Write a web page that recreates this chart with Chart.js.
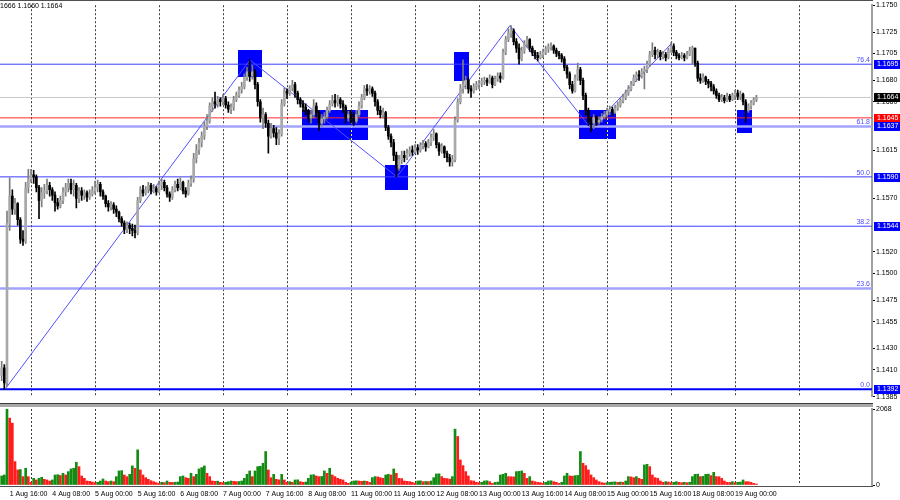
<!DOCTYPE html>
<html><head><meta charset="utf-8">
<script src="https://cdn.jsdelivr.net/npm/chart.js@4.4.1/dist/chart.umd.min.js"></script>
<style>
html,body{margin:0;padding:0;background:#fff;overflow:hidden}
#wrap{position:relative;width:900px;height:500px;background:#fff}
#pc{position:absolute;left:0;top:0}
#vc{position:absolute;left:0;top:402px}
</style></head><body>
<div id="wrap"><canvas id="pc" width="900" height="402"></canvas><canvas id="vc" width="900" height="98"></canvas></div>
<script>
// ---------- DATA (EURUSD H1, 1 Aug 13:00 -> 19 Aug 08:00) ----------
const open0 = 1.1405;
const closes = [
1.1412,1.1398,1.1547,1.1572,1.1560,1.1565,1.1550,1.1532,1.1530,1.1580,1.1588,
1.1592,1.1590,1.1580,1.1568,1.1575,1.1577,1.1582,1.1578,1.1573,1.1566,1.1563,1.1568,1.1576,1.1580,1.1584,1.1578,1.1582,1.1570,1.1577,1.1573,1.1575,1.1571,1.1574,1.1577,
1.1580,1.1583,1.1576,1.1572,1.1565,1.1562,1.1564,1.1560,1.1557,1.1551,1.1547,1.1541,1.1545,1.1542,1.1540,1.1538,1.1568,1.1578,1.1575,1.1578,1.1582,1.1577,1.1579,1.1576,
1.1582,1.1585,1.1580,1.1574,1.1571,1.1578,1.1583,1.1580,1.1585,1.1577,1.1574,1.1584,1.1588,1.1607,1.1615,1.1622,1.1628,1.1637,1.1642,1.1656,1.1660,1.1658,1.1662,1.1660,
1.1663,1.1657,1.1653,1.1655,1.1662,1.1666,1.1671,1.1674,1.1683,1.1688,1.1684,1.1688,1.1676,1.1660,1.1645,1.1648,1.1640,1.1628,1.1635,1.1631,1.1626,1.1630,1.1658,1.1670,
1.1668,1.1673,1.1676,1.1668,1.1662,1.1658,1.1655,1.1651,1.1645,1.1648,1.1656,1.1650,1.1640,1.1644,1.1646,1.1652,1.1658,1.1661,1.1659,1.1662,1.1658,1.1655,1.1645,1.1648,
1.1644,1.1642,1.1648,1.1656,1.1664,1.1672,1.1670,1.1672,1.1668,1.1660,1.1652,1.1648,1.1650,1.1636,1.1628,1.1622,1.1610,1.1598,1.1606,1.1610,1.1608,1.1612,1.1615,1.1613,
1.1617,1.1615,1.1619,1.1621,1.1618,1.1622,1.1627,1.1630,1.1620,1.1614,1.1618,1.1612,1.1608,1.1604,1.1606,1.1643,1.1660,1.1672,1.1676,1.1680,1.1672,1.1670,1.1674,1.1676,
1.1677,1.1679,1.1680,1.1678,1.1682,1.1676,1.1681,1.1684,1.1682,1.1706,1.1718,1.1724,1.1726,1.1716,1.1710,1.1700,1.1708,1.1714,1.1718,1.1710,1.1706,1.1703,1.1701,1.1704,
1.1706,1.1709,1.1711,1.1712,1.1708,1.1705,1.1703,1.1700,1.1692,1.1686,1.1676,1.1670,1.1682,1.1690,1.1680,1.1666,1.1652,1.1642,1.1640,1.1645,1.1641,1.1643,1.1646,1.1648,
1.1651,1.1653,1.1650,1.1654,1.1657,1.1661,1.1664,1.1668,1.1672,1.1676,1.1682,1.1685,1.1684,1.1688,1.1690,1.1695,1.1704,1.1708,1.1704,1.1706,1.1702,1.1704,1.1701,1.1708,
1.1712,1.1706,1.1703,1.1701,1.1703,1.1701,1.1704,1.1708,1.1710,1.1696,1.1682,1.1680,1.1683,1.1679,1.1677,1.1674,1.1670,1.1666,1.1662,1.1664,1.1661,1.1665,1.1662,1.1666,
1.1668,1.1665,1.1667,1.1660,1.1652,1.1656,1.1659,1.1662,1.1664];
const highs = [
1.1418,1.1415,1.1558,1.1589,1.1578,1.1570,1.1566,1.1552,1.1540,1.1585,1.1597,
1.1597,1.1596,1.1592,1.1582,1.1580,1.1583,1.1588,1.1585,1.1580,1.1576,1.1570,1.1572,1.1580,1.1584,1.1588,1.1588,1.1587,1.1584,1.1580,1.1580,1.1578,1.1577,1.1578,1.1581,
1.1586,1.1587,1.1585,1.1578,1.1573,1.1568,1.1567,1.1566,1.1563,1.1558,1.1553,1.1549,1.1548,1.1547,1.1546,1.1545,1.1571,1.1581,1.1582,1.1581,1.1585,1.1584,1.1583,1.1581,
1.1586,1.1588,1.1587,1.1582,1.1576,1.1581,1.1586,1.1588,1.1589,1.1586,1.1580,1.1587,1.1591,1.1612,1.1620,1.1626,1.1632,1.1641,1.1648,1.1659,1.1664,1.1669,1.1665,1.1664,
1.1667,1.1665,1.1660,1.1658,1.1665,1.1669,1.1674,1.1678,1.1686,1.1692,1.1699,1.1694,1.1690,1.1678,1.1662,1.1654,1.1650,1.1643,1.1640,1.1638,1.1636,1.1634,1.1662,1.1673,
1.1672,1.1675,1.1680,1.1678,1.1670,1.1664,1.1661,1.1658,1.1653,1.1652,1.1662,1.1659,1.1652,1.1648,1.1650,1.1655,1.1661,1.1666,1.1667,1.1666,1.1664,1.1661,1.1657,1.1651,
1.1652,1.1650,1.1652,1.1660,1.1667,1.1675,1.1676,1.1675,1.1674,1.1670,1.1662,1.1656,1.1654,1.1651,1.1638,1.1630,1.1625,1.1613,1.1610,1.1614,1.1614,1.1616,1.1618,1.1619,
1.1620,1.1620,1.1622,1.1624,1.1623,1.1625,1.1630,1.1634,1.1631,1.1622,1.1621,1.1619,1.1614,1.1611,1.1610,1.1646,1.1663,1.1676,1.1699,1.1684,1.1682,1.1675,1.1677,1.1679,
1.1680,1.1682,1.1683,1.1682,1.1685,1.1684,1.1684,1.1687,1.1687,1.1709,1.1721,1.1728,1.1731,1.1728,1.1719,1.1714,1.1711,1.1717,1.1721,1.1719,1.1712,1.1708,1.1706,1.1707,
1.1709,1.1712,1.1714,1.1715,1.1713,1.1710,1.1707,1.1705,1.1702,1.1694,1.1688,1.1679,1.1685,1.1696,1.1692,1.1682,1.1668,1.1654,1.1646,1.1648,1.1647,1.1646,1.1649,1.1651,
1.1654,1.1656,1.1655,1.1657,1.1660,1.1663,1.1667,1.1671,1.1675,1.1679,1.1685,1.1688,1.1689,1.1691,1.1693,1.1698,1.1707,1.1715,1.1711,1.1709,1.1708,1.1707,1.1706,1.1710,
1.1715,1.1714,1.1708,1.1705,1.1706,1.1705,1.1707,1.1711,1.1712,1.1710,1.1698,1.1686,1.1686,1.1684,1.1681,1.1679,1.1676,1.1672,1.1668,1.1667,1.1666,1.1668,1.1667,1.1668,
1.1671,1.1671,1.1670,1.1668,1.1662,1.1658,1.1661,1.1664,1.1666];
const lows = [
1.1400,1.1392,1.1395,1.1540,1.1555,1.1555,1.1545,1.1528,1.1526,1.1528,1.1575,
1.1585,1.1584,1.1576,1.1551,1.1562,1.1570,1.1574,1.1572,1.1568,1.1558,1.1560,1.1561,1.1565,1.1572,1.1576,1.1574,1.1572,1.1561,1.1566,1.1568,1.1569,1.1567,1.1569,1.1572,
1.1574,1.1576,1.1572,1.1569,1.1562,1.1558,1.1559,1.1556,1.1553,1.1548,1.1544,1.1537,1.1538,1.1537,1.1535,1.1533,1.1536,1.1566,1.1572,1.1573,1.1575,1.1574,1.1575,1.1573,
1.1575,1.1578,1.1577,1.1571,1.1567,1.1569,1.1576,1.1577,1.1578,1.1574,1.1571,1.1573,1.1581,1.1585,1.1603,1.1611,1.1618,1.1625,1.1634,1.1640,1.1651,1.1654,1.1655,1.1656,
1.1657,1.1654,1.1650,1.1649,1.1652,1.1660,1.1664,1.1668,1.1672,1.1680,1.1679,1.1681,1.1672,1.1656,1.1641,1.1635,1.1636,1.1612,1.1626,1.1627,1.1620,1.1620,1.1628,1.1656,
1.1663,1.1666,1.1670,1.1664,1.1658,1.1655,1.1651,1.1648,1.1641,1.1640,1.1645,1.1646,1.1633,1.1637,1.1640,1.1644,1.1650,1.1656,1.1655,1.1656,1.1654,1.1650,1.1640,1.1642,
1.1640,1.1638,1.1640,1.1646,1.1654,1.1662,1.1666,1.1667,1.1665,1.1656,1.1648,1.1645,1.1645,1.1633,1.1625,1.1618,1.1605,1.1590,1.1596,1.1602,1.1604,1.1606,1.1609,1.1610,
1.1612,1.1611,1.1613,1.1616,1.1614,1.1617,1.1619,1.1624,1.1617,1.1610,1.1612,1.1608,1.1604,1.1600,1.1600,1.1604,1.1641,1.1658,1.1668,1.1672,1.1668,1.1664,1.1668,1.1671,
1.1672,1.1674,1.1676,1.1675,1.1677,1.1673,1.1675,1.1679,1.1678,1.1681,1.1704,1.1716,1.1720,1.1713,1.1706,1.1695,1.1698,1.1705,1.1711,1.1707,1.1703,1.1700,1.1698,1.1700,
1.1701,1.1704,1.1706,1.1708,1.1705,1.1702,1.1700,1.1697,1.1689,1.1682,1.1672,1.1668,1.1669,1.1680,1.1676,1.1662,1.1648,1.1638,1.1632,1.1635,1.1638,1.1639,1.1641,1.1644,
1.1646,1.1648,1.1647,1.1649,1.1652,1.1655,1.1659,1.1662,1.1666,1.1670,1.1675,1.1679,1.1680,1.1682,1.1672,1.1687,1.1693,1.1702,1.1700,1.1701,1.1699,1.1700,1.1698,1.1700,
1.1706,1.1703,1.1700,1.1699,1.1700,1.1698,1.1700,1.1703,1.1695,1.1693,1.1679,1.1677,1.1678,1.1676,1.1673,1.1670,1.1667,1.1663,1.1660,1.1660,1.1659,1.1660,1.1660,1.1661,
1.1662,1.1662,1.1662,1.1657,1.1641,1.1650,1.1653,1.1657,1.1660];
const volumes = [
246,273,2068,1820,1684,637,410,420,228,455,228,
73,182,137,182,210,155,137,109,137,273,280,260,319,273,364,437,455,619,500,246,182,109,100,80,
64,73,109,164,109,91,109,91,228,382,390,273,228,291,519,455,956,410,273,200,155,118,91,64,
45,73,64,109,73,70,75,80,228,246,200,182,319,228,291,437,473,519,319,228,109,100,105,73,
64,73,91,109,100,91,95,109,182,291,382,228,382,500,510,591,910,410,200,291,155,140,291,137,
73,91,73,137,140,91,73,80,182,273,280,246,228,232,382,319,455,273,228,182,155,137,73,45,
73,109,115,109,100,109,100,73,200,228,220,200,182,273,291,273,437,319,182,175,109,100,91,73,
45,109,115,91,95,91,109,200,300,305,228,182,175,160,228,1520,1320,682,528,364,246,118,109,73,
64,73,109,115,91,45,73,80,273,291,319,228,225,220,364,370,382,319,182,228,109,91,73,64,
45,73,109,115,91,73,45,73,246,319,246,240,255,260,910,591,528,410,273,200,137,91,64,55,
60,73,80,85,73,80,73,109,228,220,200,228,182,155,546,564,500,273,200,182,109,73,91,80,
64,73,91,73,64,73,64,73,228,291,295,228,235,291,295,255,346,228,225,182,109,73,70,91,
64,73,80,137,91,90,73,45,27];
const timeLabels = ["1 Aug 16:00","4 Aug 08:00","5 Aug 00:00","5 Aug 16:00","6 Aug 08:00","7 Aug 00:00","7 Aug 16:00","8 Aug 08:00","11 Aug 00:00","11 Aug 16:00","12 Aug 08:00","13 Aug 00:00","13 Aug 16:00","14 Aug 08:00","15 Aug 00:00","15 Aug 16:00","18 Aug 08:00","19 Aug 00:00"];
const timeLabelBars = [3,19,35,51,67,83,99,115,131,147,163,179,195,211,227,243,259,275];
const dayStartBars = [11,35,59,83,107,131,155,179,203,227,251,275,299];
const priceTicks = [1.1750,1.1725,1.1705,1.1680,1.1660,1.1615,1.1570,1.1520,1.1500,1.1475,1.1455,1.1430,1.1410,1.1385];
const volumeTicks = [0,2068];
const fibNames = ["0.0","23.6","38.2","50.0","61.8","76.4"];
const fibPrices = [1.1392,1.1486,1.1544,1.1590,1.1637,1.1695];
const bidPrice = 1.1664;
const redLevel = 1.1645;
const tagPrices = [1.1695,1.1664,1.1645,1.1637,1.1590,1.1544,1.1392];
const tagColors = ["#0000ff","#000000","#ff0000","#0000ff","#0000ff","#0000ff","#0000ff"];
const zigzagBars = [1.25,93.1,148.2,190.6,221,251.4];
const zigzagPrices = [1.1392,1.1699,1.1590,1.1731,1.1635,1.1715];
const boxFrom = [88.6,112.6,143.7,169.6,216.5,275.7];
const boxTo = [97.6,137.4,152.4,175.2,230.4,281.3];
const boxHigh = [1.1708,1.1652,1.1601,1.1706,1.1652,1.1652];
const boxLow = [1.1683,1.1624,1.1578,1.1679,1.1625,1.1631];
const headerText = "1666 1.1660 1.1664";

// ---------- BUILD ----------
const FONT = "'Liberation Sans', Arial, sans-serif";
Chart.defaults.font.family = FONT;
Chart.defaults.font.size = 7;
Chart.defaults.color = '#000';
const X_MIN = -0.625, X_MAX = 326.35;

const opens = closes.map((c,i)=> i===0 ? open0 : closes[i-1]);
const up = closes.map((c,i)=> c > opens[i]);
const bodies = closes.map((c,i)=>({x:i, y:[opens[i], c]}));
const wicks = closes.map((c,i)=>({x:i, y:[Math.min(lows[i],opens[i],c), Math.max(highs[i],opens[i],c)]}));
const bodyCol = up.map(u=> u ? '#a9a9a9' : '#000000');
const wickCol = up.map(u=> u ? '#7c7c7c' : '#000000');

const hLine = (p, color, w) => ({type:'line', data:[{x:-2,y:p},{x:340,y:p}], borderColor:color, borderWidth:w, pointRadius:0, order:10, tension:0});
const fibStyle = {"0.0":['#0000ff',2],"23.6":['#a3a3ff',2.5],"38.2":['#3d3dff',1],"50.0":['#3d3dff',1],"61.8":['#a3a3ff',2.5],"76.4":['#3d3dff',1]};

const priceDatasets = [
  hLine(bidPrice,'#c8c8c8',1),
  ...fibNames.map((n,k)=>hLine(fibPrices[k], fibStyle[n][0], fibStyle[n][1])),
  hLine(redLevel,'#ff2a2a',1),
  {type:'line', data: zigzagBars.map((b,k)=>({x:b,y:zigzagPrices[k]})), borderColor:'#5050ff', borderWidth:1, pointRadius:0, order:9, tension:0},
  {type:'bar', data:wicks, backgroundColor:wickCol, barThickness:1, grouped:false, order:1, minBarLength:1, borderWidth:0},
  {type:'bar', data:bodies, backgroundColor:bodyCol, barThickness:2, grouped:false, order:0, minBarLength:1, borderWidth:0}
];

const overlay = {
  id:'overlay',
  beforeDatasetsDraw(chart){
    const {ctx, chartArea:a} = chart; const x = chart.scales.x, y = chart.scales.y;
    ctx.save();
    ctx.beginPath(); ctx.rect(a.left,a.top,a.right-a.left,a.bottom-a.top); ctx.clip();
    for (let k=0;k<boxFrom.length;k++){
      const x1 = Math.round(x.getPixelForValue(boxFrom[k])), x2 = Math.round(x.getPixelForValue(boxTo[k]));
      const y1 = Math.round(y.getPixelForValue(boxHigh[k])), y2 = Math.round(y.getPixelForValue(boxLow[k]));
      ctx.fillStyle = '#0000ff'; ctx.fillRect(x1,y1,x2-x1,y2-y1);
      dayStartBars.forEach(g=>{
        if (g>boxFrom[k] && g<boxTo[k]){
          const gx = Math.floor(x.getPixelForValue(g))+0.5;
          ctx.strokeStyle='#ffff00'; ctx.lineWidth=1; ctx.setLineDash([2,2]);
          ctx.beginPath(); ctx.moveTo(gx,y1); ctx.lineTo(gx,y2); ctx.stroke(); ctx.setLineDash([]);
        }
      });
    }
    ctx.restore();
  },
  afterDraw(chart){
    const {ctx, chartArea:a} = chart; const y = chart.scales.y;
    ctx.save();
    ctx.fillStyle = '#505050'; ctx.fillRect(0,0,a.right+1,1);
    ctx.font = "7px " + FONT; ctx.textAlign='right'; ctx.textBaseline='bottom'; ctx.fillStyle='#4d4dff';
    fibNames.forEach((n,k)=>{ const py = y.getPixelForValue(fibPrices[k]); ctx.fillText(n, a.right-2, py-0.5); });
    ctx.textAlign='left'; ctx.textBaseline='middle';
    tagPrices.forEach((p,k)=>{
      const py = Math.round(y.getPixelForValue(p));
      ctx.fillStyle = tagColors[k]; ctx.fillRect(a.right+2, py-4, 26, 9);
      ctx.fillStyle = '#ffffff'; ctx.fillText(p.toFixed(4), a.right+5, py+0.5);
    });
    ctx.fillStyle='#000'; ctx.textBaseline='middle'; ctx.fillText(headerText, 0, 6.5);
    ctx.restore();
  }
};

new Chart(document.getElementById('pc'), {
  type:'bar',
  data:{datasets: priceDatasets},
  options:{
    responsive:false, animation:false, devicePixelRatio:1,
    layout:{padding:{top:3,bottom:4,left:0,right:0}},
    plugins:{legend:{display:false}, tooltip:{enabled:false}},
    scales:{
      x:{type:'linear', min:X_MIN, max:X_MAX, offset:false,
         afterBuildTicks: s=>{ s.ticks = dayStartBars.map(v=>({value:v})); },
         afterFit: s=>{ s.height = 0; },
         ticks:{display:false},
         grid:{offset:false, color:'#3a3a3a', lineWidth:1, drawTicks:false},
         border:{display:false, dash:[2,2]}},
      y:{type:'linear', position:'right', min:1.1385, max:1.1750,
         afterBuildTicks: s=>{ s.ticks = priceTicks.map(v=>({value:v})); },
         afterFit: s=>{ s.width = 28; },
         ticks:{padding:1, callback:v=>Number(v).toFixed(4), font:{size:7}},
         grid:{drawOnChartArea:false, drawTicks:true, tickLength:3, tickColor:'#000'},
         border:{display:true, color:'#a0a0a0', width:2}}
    }
  },
  plugins:[overlay]
});

// ---------- VOLUME PANEL ----------
const volCol = volumes.map((v,i)=> (i===0 || v >= volumes[i-1]) ? '#128c12' : '#ff1c1c');
const tickBars = [...new Set([...timeLabelBars, ...dayStartBars])].sort((a,b)=>a-b);
const labelAt = {}; timeLabelBars.forEach((b,k)=>{ labelAt[b]=timeLabels[k]; });
const gridSet = new Set(dayStartBars);

const volFrame = {
  id:'volFrame',
  afterDraw(chart){
    const {ctx, chartArea:a} = chart;
    ctx.save();
    ctx.fillStyle='#3c3c3c'; ctx.fillRect(0,1,a.right+1,1);
    ctx.fillStyle='#a8a8a8'; ctx.fillRect(0,2,a.right+1,3);
    ctx.fillStyle='#505050'; ctx.fillRect(0,Math.round(a.bottom)+1,a.right+1,1);
    ctx.restore();
  }
};

new Chart(document.getElementById('vc'), {
  type:'bar',
  data:{datasets:[{data: volumes.map((v,i)=>({x:i,y:v})), backgroundColor:volCol, barThickness:2, borderWidth:0, grouped:false}]},
  options:{
    responsive:false, animation:false, devicePixelRatio:1,
    layout:{padding:{top:7,bottom:0,left:0,right:0}},
    plugins:{legend:{display:false}, tooltip:{enabled:false}},
    scales:{
      x:{type:'linear', min:X_MIN, max:X_MAX, offset:false,
         afterBuildTicks: s=>{ s.ticks = tickBars.map(v=>({value:v})); },
         afterFit: s=>{ s.height = 15; },
         ticks:{autoSkip:false, maxRotation:0, minRotation:0, align:'start', padding:5,
                callback:(v)=> labelAt[Math.round(v)] || '', font:{size:7}},
         grid:{offset:false, color: c => (c.tick && gridSet.has(c.tick.value)) ? '#3a3a3a' : 'rgba(0,0,0,0)', lineWidth:1, drawTicks:false},
         border:{display:false, dash:[2,2]}},
      y:{type:'linear', position:'right', min:0, max:2068,
         afterBuildTicks: s=>{ s.ticks = volumeTicks.map(v=>({value:v})); },
         afterFit: s=>{ s.width = 28; },
         ticks:{padding:1, callback:v=>String(v), font:{size:7}},
         grid:{drawOnChartArea:false, drawTicks:true, tickLength:3, tickColor:'#000'},
         border:{display:true, color:'#a0a0a0', width:2}}
    }
  },
  plugins:[volFrame]
});
</script>
</body></html>
